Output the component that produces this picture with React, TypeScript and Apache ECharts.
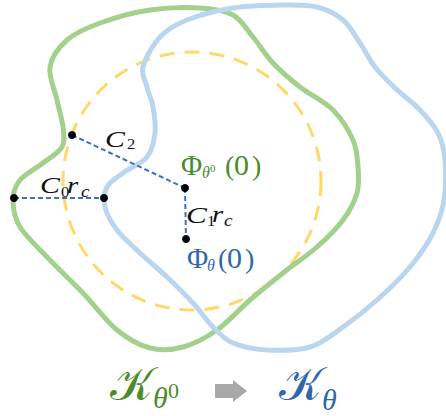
import React, { useEffect, useRef } from "react";
import * as echarts from "echarts";

// Outline of K_theta0 (green) and K_theta (blue), in pixels
const greenOutline: number[][] = [
  [50, 67], [67, 40], [100, 23], [150, 10], [200, 8], [233, 15], [253, 37], [273, 63],
  [300, 87], [333, 110], [353, 140], [358, 167], [357, 193], [343, 220], [317, 247],
  [283, 273], [250, 300], [217, 330], [183, 347], [150, 348], [117, 330], [83, 293],
  [50, 260], [20, 227], [13, 200], [20, 180], [43, 163], [62, 147], [63, 127], [57, 100],
];
const blueOutline: number[][] = [
  [143, 67], [160, 37], [187, 20], [233, 8], [283, 5], [317, 7], [343, 20], [360, 43],
  [375, 67], [395, 88], [420, 110], [438, 133], [445, 160], [444, 200], [433, 233],
  [410, 267], [377, 300], [343, 327], [310, 347], [267, 350], [233, 343], [213, 327],
  [193, 303], [167, 277], [140, 253], [117, 230], [105, 207], [107, 187], [123, 173],
  [147, 157], [155, 133], [153, 107], [147, 87],
];
const circleCenter = [192, 181];
const circleRadius = 129;
const dots: number[][] = [[14, 198], [104, 198], [72, 135], [185, 188], [186, 239]];
const dashedSegments: number[][][] = [
  [[72, 135], [185, 188]],
  [[14, 198], [104, 198]],
  [[185, 188], [186, 239]],
];

const MATH = "'Liberation Serif', 'DejaVu Serif', serif";

function closedSpline(p: number[][]): string {
  const n = p.length;
  let d = `M${p[0][0]},${p[0][1]}`;
  for (let i = 0; i < n; i++) {
    const p0 = p[(i - 1 + n) % n];
    const p1 = p[i];
    const p2 = p[(i + 1) % n];
    const p3 = p[(i + 2) % n];
    const c1x = p1[0] + (p2[0] - p0[0]) / 6;
    const c1y = p1[1] + (p2[1] - p0[1]) / 6;
    const c2x = p2[0] - (p3[0] - p1[0]) / 6;
    const c2y = p2[1] - (p3[1] - p1[1]) / 6;
    d += ` C${c1x.toFixed(2)},${c1y.toFixed(2)} ${c2x.toFixed(2)},${c2y.toFixed(2)} ${p2[0]},${p2[1]}`;
  }
  return d + " Z";
}

// text placed by its alphabetic baseline
function txt(text: string, x: number, baseline: number, size: number, color: string, italic: boolean, sx = 1) {
  return {
    type: "text",
    x,
    y: baseline - 0.34 * size,
    scaleX: sx,
    z: 20,
    style: {
      text,
      font: `${italic ? "italic " : ""}${size}px ${MATH}`,
      fill: color,
      textAlign: "left",
      textVerticalAlign: "middle",
    },
  };
}

export default function App() {
  const ref = useRef<HTMLDivElement>(null);
  useEffect(() => {
    if (!ref.current) return;
    echarts.graphic.registerShape("greenOutlineShape", echarts.graphic.extendPath(closedSpline(greenOutline), {}));
    echarts.graphic.registerShape("blueOutlineShape", echarts.graphic.extendPath(closedSpline(blueOutline), {}));
    const chart = echarts.init(ref.current, undefined, { renderer: "svg" });
    const black = "#111";
    const green = "#4b8b2b";
    const blue = "#2f67ae";
    const graphic: any[] = [
      {
        type: "circle",
        z: 1,
        shape: { cx: circleCenter[0], cy: circleCenter[1], r: circleRadius },
        style: { fill: "none", stroke: "#ffd86a", lineWidth: 3, lineDash: [15, 10] },
      },
      {
        type: "greenOutlineShape",
        z: 2,
        x: 0, y: 0, scaleX: 1, scaleY: 1,
        style: { fill: "none", stroke: "#a3d08c", lineWidth: 5 },
      },
      {
        type: "blueOutlineShape",
        z: 3,
        x: 0, y: 0, scaleX: 1, scaleY: 1,
        style: { fill: "none", stroke: "#bad6ee", lineWidth: 5 },
      },
      ...dashedSegments.map((s) => ({
        type: "line",
        z: 5,
        shape: { x1: s[0][0], y1: s[0][1], x2: s[1][0], y2: s[1][1] },
        style: { stroke: "#3b6fc6", lineWidth: 2, lineDash: [5, 3] },
      })),
      ...dots.map((d) => ({
        type: "circle",
        z: 6,
        shape: { cx: d[0], cy: d[1], r: 4 },
        style: { fill: "#000" },
      })),
      // C_2
      txt("C", 105, 147, 23, black, true, 1.3),
      txt("2", 127, 149, 15, black, false, 1.1),
      // C_0 r_c
      txt("C", 40, 193, 23, black, true, 1.3),
      txt("0", 61, 197, 15, black, false, 1.1),
      txt("r", 67, 193, 23, black, true, 1.25),
      txt("c", 81, 197, 16, black, true, 1.2),
      // Phi_theta0(0)
      txt("Φ", 181, 175, 29, green, false),
      txt("θ", 202, 178, 16, green, true),
      txt("0", 210, 172, 11, green, false),
      txt("(", 225, 175, 28, green, false),
      txt("0", 234, 175, 30, green, false),
      txt(")", 252, 175, 28, green, false),
      // C_1 r_c
      txt("C", 186, 223, 24, black, true, 1.3),
      txt("1", 207, 226, 15, black, false, 1.1),
      txt("r", 212, 222, 23, black, true, 1.25),
      txt("c", 224, 226, 16, black, true, 1.2),
      // Phi_theta(0)
      txt("Φ", 187, 268, 29, blue, false),
      txt("θ", 207, 271, 16, blue, true),
      txt("(", 218, 268, 28, blue, false),
      txt("0", 227, 268, 30, blue, false),
      txt(")", 245, 268, 28, blue, false),
      // Bottom labels
      txt("𝒦", 110, 400, 46, green, false),
      txt("θ", 153, 408, 30, green, true),
      txt("0", 168, 398, 22, green, false),
      txt("𝒦", 279, 400, 46, blue, false),
      txt("θ", 322, 410, 30, blue, true),
      {
        type: "polygon",
        z: 10,
        shape: {
          points: [[215, 384], [233, 384], [233, 380], [247, 391], [233, 402], [233, 398], [215, 398]],
        },
        style: { fill: "#a8a8a8" },
      },
    ];
    chart.setOption({ animation: false, backgroundColor: "#fff", graphic });
    return () => chart.dispose();
  }, []);
  return (
    <div
      ref={ref}
      style={{ position: "fixed", left: 0, top: 0, width: 446, height: 416 }}
    />
  );
}
